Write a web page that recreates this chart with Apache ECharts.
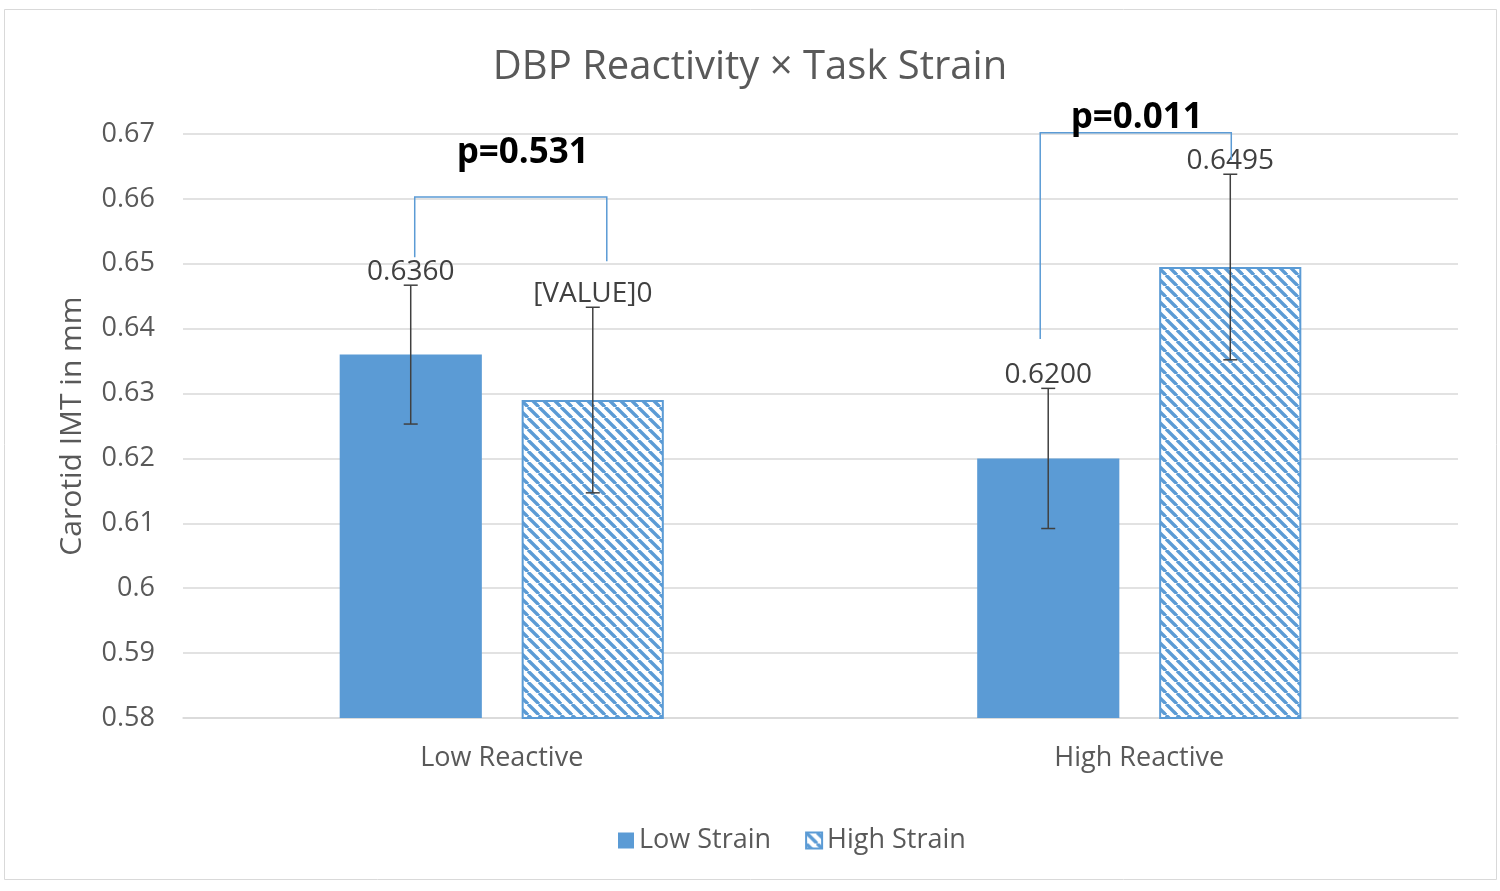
<!DOCTYPE html>
<html>
<head>
<meta charset="utf-8">
<script src="https://cdn.jsdelivr.net/npm/echarts@6/dist/echarts.min.js"></script>
<style>html,body{margin:0;padding:0;background:#fff;}#chart{width:1500px;height:891px;}</style>
</head>
<body>
<div id="chart"></div>
<script>
// ---- data ----
const categories = ['Low Reactive', 'High Reactive'];
const seriesNames = ['Low Strain', 'High Strain'];
const lowStrain = [0.636, 0.620];
const highStrain = [0.629, 0.6495];
const lowStrainErr = [0.0107, 0.0108];
const highStrainErr = [0.0143, 0.0143];
const lowStrainLabels = ['0.6360', '0.6200'];
const highStrainLabels = ['[VALUE]0', '0.6495'];
const pValues = ['p=0.531', 'p=0.011'];
const bracketTop = [0.6603, 0.6702];
const bracketLeftEnd = [0.6510, 0.6384];
const bracketRightEnd = [0.6504, 0.6660];
const pLabelY = [0.6671, 0.6725];
const yTicks = [0.58, 0.59, 0.6, 0.61, 0.62, 0.63, 0.64, 0.65, 0.66, 0.67];

// ---- styles ----
const BLUE = '#5B9BD5';
const GRAY_TEXT = '#595959';
const FONT = '"Open Sans", "Noto Sans", sans-serif';
const BAR_OFFSET = 0.1428; // fraction of band width from centre to bar centre
const bracketNudge = [[4, 14], [-8, 1]];
const pTextNudge = [12, 1];

function makePattern() {
  const n = 11;
  const c = document.createElement('canvas');
  c.width = n; c.height = n;
  const g = c.getContext('2d');
  g.fillStyle = '#ffffff';
  g.fillRect(0, 0, n, n);
  g.strokeStyle = BLUE;
  g.lineWidth = 3.4;
  for (const o of [-n, 0, n]) {
    g.beginPath();
    g.moveTo(o, 0);
    g.lineTo(o + n, n);
    g.stroke();
  }
  return c;
}
const pattern = { image: makePattern(), repeat: 'repeat' };

const errData = [];
const errLabels = [];
categories.forEach((c, i) => {
  errData.push([i, 0, lowStrain[i] - lowStrainErr[i], lowStrain[i] + lowStrainErr[i]]);
  errLabels.push(lowStrainLabels[i]);
  errData.push([i, 1, highStrain[i] - highStrainErr[i], highStrain[i] + highStrainErr[i]]);
  errLabels.push(highStrainLabels[i]);
});
const bracketData = categories.map((c, i) => [i, bracketTop[i], bracketLeftEnd[i], bracketRightEnd[i], pLabelY[i]]);

function renderErr(params, api) {
  const cat = api.value(0), s = api.value(1);
  const band = api.size([1, 0])[0];
  const off = (s === 0 ? -1 : 1) * band * BAR_OFFSET;
  const top = api.coord([cat, api.value(3)]);
  const bot = api.coord([cat, api.value(2)]);
  const x = top[0] + off;
  const st = { stroke: '#404040', lineWidth: 1.5 };
  const cap = 7;
  return {
    type: 'group',
    children: [
      { type: 'line', shape: { x1: x, y1: top[1], x2: x, y2: bot[1] }, style: st },
      { type: 'line', shape: { x1: x - cap, y1: top[1], x2: x + cap, y2: top[1] }, style: st },
      { type: 'line', shape: { x1: x - cap, y1: bot[1], x2: x + cap, y2: bot[1] }, style: st },
      { type: 'text', x: x, y: top[1] + 1, style: { text: errLabels[params.dataIndex], fill: '#404040', font: '28px ' + FONT, textAlign: 'center', textVerticalAlign: 'bottom' } }
    ]
  };
}

function renderBracket(params, api) {
  const cat = api.value(0);
  const i = params.dataIndex;
  const band = api.size([1, 0])[0];
  const c = api.coord([cat, api.value(1)]);
  const xl = c[0] - band * BAR_OFFSET + bracketNudge[i][0];
  const xr = c[0] + band * BAR_OFFSET + bracketNudge[i][1];
  const yt = c[1];
  const yl = api.coord([cat, api.value(2)])[1];
  const yr = api.coord([cat, api.value(3)])[1];
  const yp = api.coord([cat, api.value(4)])[1];
  return {
    type: 'group',
    children: [
      { type: 'polyline', shape: { points: [[xl, yl], [xl, yt], [xr, yt], [xr, yr]] }, style: { stroke: BLUE, lineWidth: 1.5, fill: null } },
      { type: 'text', x: (xl + xr) / 2 + pTextNudge[i], y: yp, style: { text: pValues[i], fill: '#000', font: 'bold 35px ' + FONT, textAlign: 'center', textVerticalAlign: 'middle' } }
    ]
  };
}

const chart = echarts.init(document.getElementById('chart'));
chart.setOption({
  animation: false,
  backgroundColor: '#fff',
  graphic: [{ type: 'rect', shape: { x: 4.5, y: 9.5, width: 1492, height: 870 }, style: { fill: null, stroke: '#d9d9d9', lineWidth: 1 }, silent: true }],
  title: {
    text: 'DBP Reactivity × Task Strain',
    left: 'center', top: 43,
    textStyle: { fontFamily: FONT, fontSize: 40, fontWeight: 'normal', color: GRAY_TEXT }
  },
  legend: {
    data: seriesNames,
    icon: 'rect',
    left: 613, top: 822,
    itemWidth: 16, itemHeight: 16, itemGap: 34,
    textStyle: { fontFamily: FONT, fontSize: 27, color: GRAY_TEXT }
  },
  grid: { left: 183, right: 42, top: 134, bottom: 173 },
  xAxis: {
    type: 'category',
    data: categories,
    axisLine: { lineStyle: { color: '#d9d9d9', width: 1.5 } },
    axisTick: { show: false },
    axisLabel: { fontFamily: FONT, fontSize: 27, color: GRAY_TEXT, margin: 27 }
  },
  yAxis: {
    type: 'value',
    min: 0.58, max: 0.67, interval: 0.01,
    name: 'Carotid IMT in mm',
    nameLocation: 'middle', nameGap: 96,
    nameTextStyle: { fontFamily: FONT, fontSize: 30, color: GRAY_TEXT },
    axisLine: { show: false },
    axisTick: { show: false },
    splitLine: { lineStyle: { color: '#d9d9d9', width: 1.5 } },
    axisLabel: {
      fontFamily: FONT, fontSize: 27, color: GRAY_TEXT, margin: 28,
      formatter: v => { const t = yTicks.find(k => Math.abs(k - v) < 1e-9); return t === undefined ? '' : String(t); }
    }
  },
  series: [
    { name: seriesNames[0], type: 'bar', data: lowStrain, barWidth: '22.3%', barGap: '28%', itemStyle: { color: BLUE } },
    { name: seriesNames[1], type: 'bar', data: highStrain, barWidth: '22.3%', barGap: '28%', itemStyle: { color: pattern, borderColor: BLUE, borderWidth: 2 } },
    { type: 'custom', renderItem: renderErr, data: errData, z: 5, clip: false, silent: true },
    { type: 'custom', renderItem: renderBracket, data: bracketData, z: 6, clip: false, silent: true }
  ]
});
</script>
</body>
</html>
